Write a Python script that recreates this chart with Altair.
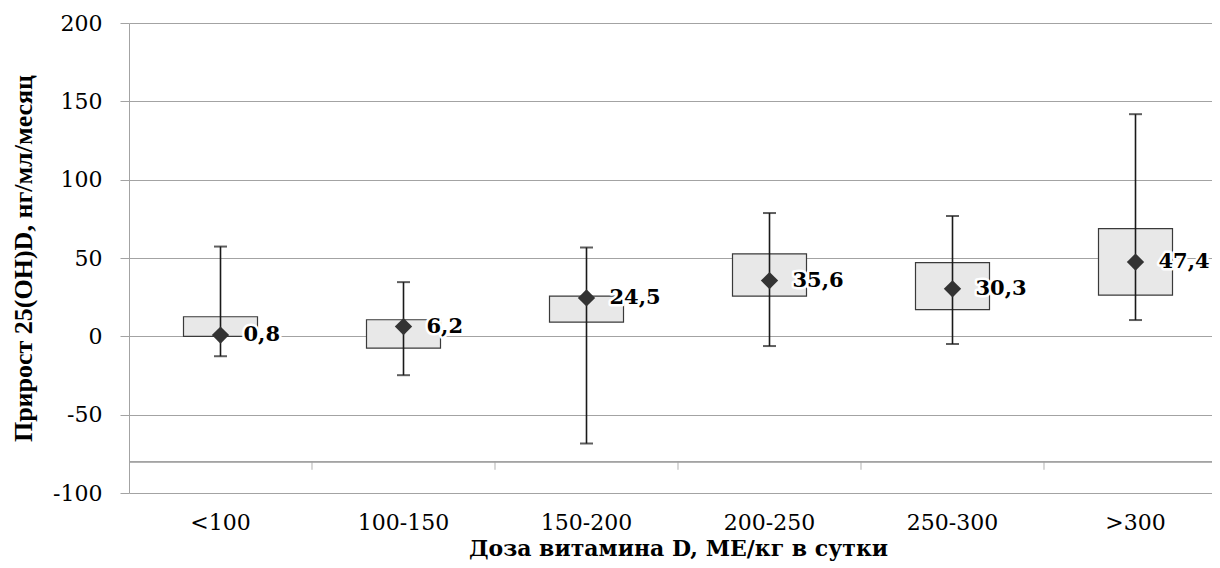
import altair as alt
import pandas as pd

categories = ["<100", "100-150", "150-200", "200-250", "250-300", ">300"]
means = [0.8, 6.2, 24.5, 35.6, 30.3, 47.4]
mean_labels = ["0,8", "6,2", "24,5", "35,6", "30,3", "47,4"]
q1 = [0.0, -7.5, 9.1, 25.7, 17.0, 26.3]
q3 = [12.5, 10.6, 25.7, 52.6, 47.1, 68.8]
lows = [-12.7, -24.8, -68.4, -6.2, -4.9, 10.4]
highs = [57.3, 34.6, 56.7, 78.7, 76.8, 141.8]
y_ticks = [-100, -50, 0, 50, 100, 150, 200]
axis_cross = -80

y_title = "Прирост  25(OH)D, нг/мл/месяц"
x_title = "Доза витамина D, МЕ/кг в сутки"

df = pd.DataFrame({
    "cat": categories, "mean": means, "label": mean_labels,
    "q1": q1, "q3": q3, "lo": lows, "hi": highs,
})
bounds = pd.DataFrame({"cat": categories[1:]})

FONT = "DejaVu Serif"
VFONT = "Liberation Serif"
GRID = "#a3a3a3"

xscale = alt.Scale(domain=categories, range=[0, 1098], paddingInner=0, paddingOuter=0)
yscale = alt.Scale(domain=[-100, 200], nice=False, zero=False)

xaxis = alt.Axis(
    labelAngle=0, domain=False, ticks=False, grid=False,
    labelFont=FONT, labelFontSize=22, labelColor="#000000", labelPadding=19,
    title=x_title, titleFont=FONT, titleFontSize=22, titleFontWeight="bold",
    titleColor="#000000", titlePadding=5,
)
yaxis = alt.Axis(
    values=y_ticks, grid=True, gridColor=GRID, gridWidth=1,
    domain=True, domainColor=GRID, domainWidth=1,
    ticks=True, tickSize=9, tickColor=GRID, tickWidth=1,
    labelFont=FONT, labelFontSize=22, labelColor="#000000", labelPadding=18,
    labelExpr="toString(datum.value)",
    title=y_title, titleFont=VFONT, titleFontSize=26, titleFontWeight="bold",
    titleColor="#000000", titlePadding=16,
)


def X(**kw):
    return alt.X("cat:N", sort=categories, scale=xscale, axis=xaxis, **kw)


def Y(field):
    return alt.Y(f"{field}:Q", scale=yscale, axis=yaxis, title=y_title)


base = alt.Chart(df)

axis_line = alt.Chart(df).mark_rule(color=GRID, strokeWidth=1.2).encode(
    y=alt.datum(axis_cross, scale=yscale, axis=yaxis, title=y_title)
)

bound_ticks = alt.Chart(bounds).mark_tick(
    orient="vertical", size=8, yOffset=4, thickness=1.2, color=GRID
).encode(
    x=X(bandPosition=0),
    y=alt.datum(axis_cross),
)

boxes = base.mark_bar(width=74, fill="#e8e8e8", stroke="#3a3a3a", strokeWidth=1.2).encode(
    x=X(), y=Y("q1"), y2="q3:Q"
)

whiskers = base.mark_rule(color="#1a1a1a", strokeWidth=1.6).encode(
    x=X(), y=Y("lo"), y2="hi:Q"
)

cap_lo = base.mark_tick(size=13, thickness=2, color="#1a1a1a").encode(x=X(), y=Y("lo"))
cap_hi = base.mark_tick(size=13, thickness=2, color="#1a1a1a").encode(x=X(), y=Y("hi"))

diamonds = base.mark_point(shape="diamond", filled=True, size=300, color="#333333", opacity=1).encode(
    x=X(), y=Y("mean")
)

halo = base.mark_text(
    align="left", baseline="middle", dx=23, font=FONT, fontSize=21, fontWeight="bold",
    stroke="white", strokeWidth=5, strokeJoin="round", fill="white",
).encode(x=X(), y=Y("mean"), text="label:N")

texts = base.mark_text(
    align="left", baseline="middle", dx=23, font=FONT, fontSize=21, fontWeight="bold",
    color="#000000",
).encode(x=X(), y=Y("mean"), text="label:N")

chart = alt.layer(
    axis_line, bound_ticks, boxes, whiskers, cap_lo, cap_hi, diamonds, halo, texts
).properties(
    width=1083, height=470,
    autosize=alt.AutoSizeParams(type="none"),
    padding={"left": 121, "top": 15, "right": 0, "bottom": 71},
    background="white",
).configure_view(stroke=None)

chart.save("out.html", embed_options={"renderer": "svg", "actions": False})
